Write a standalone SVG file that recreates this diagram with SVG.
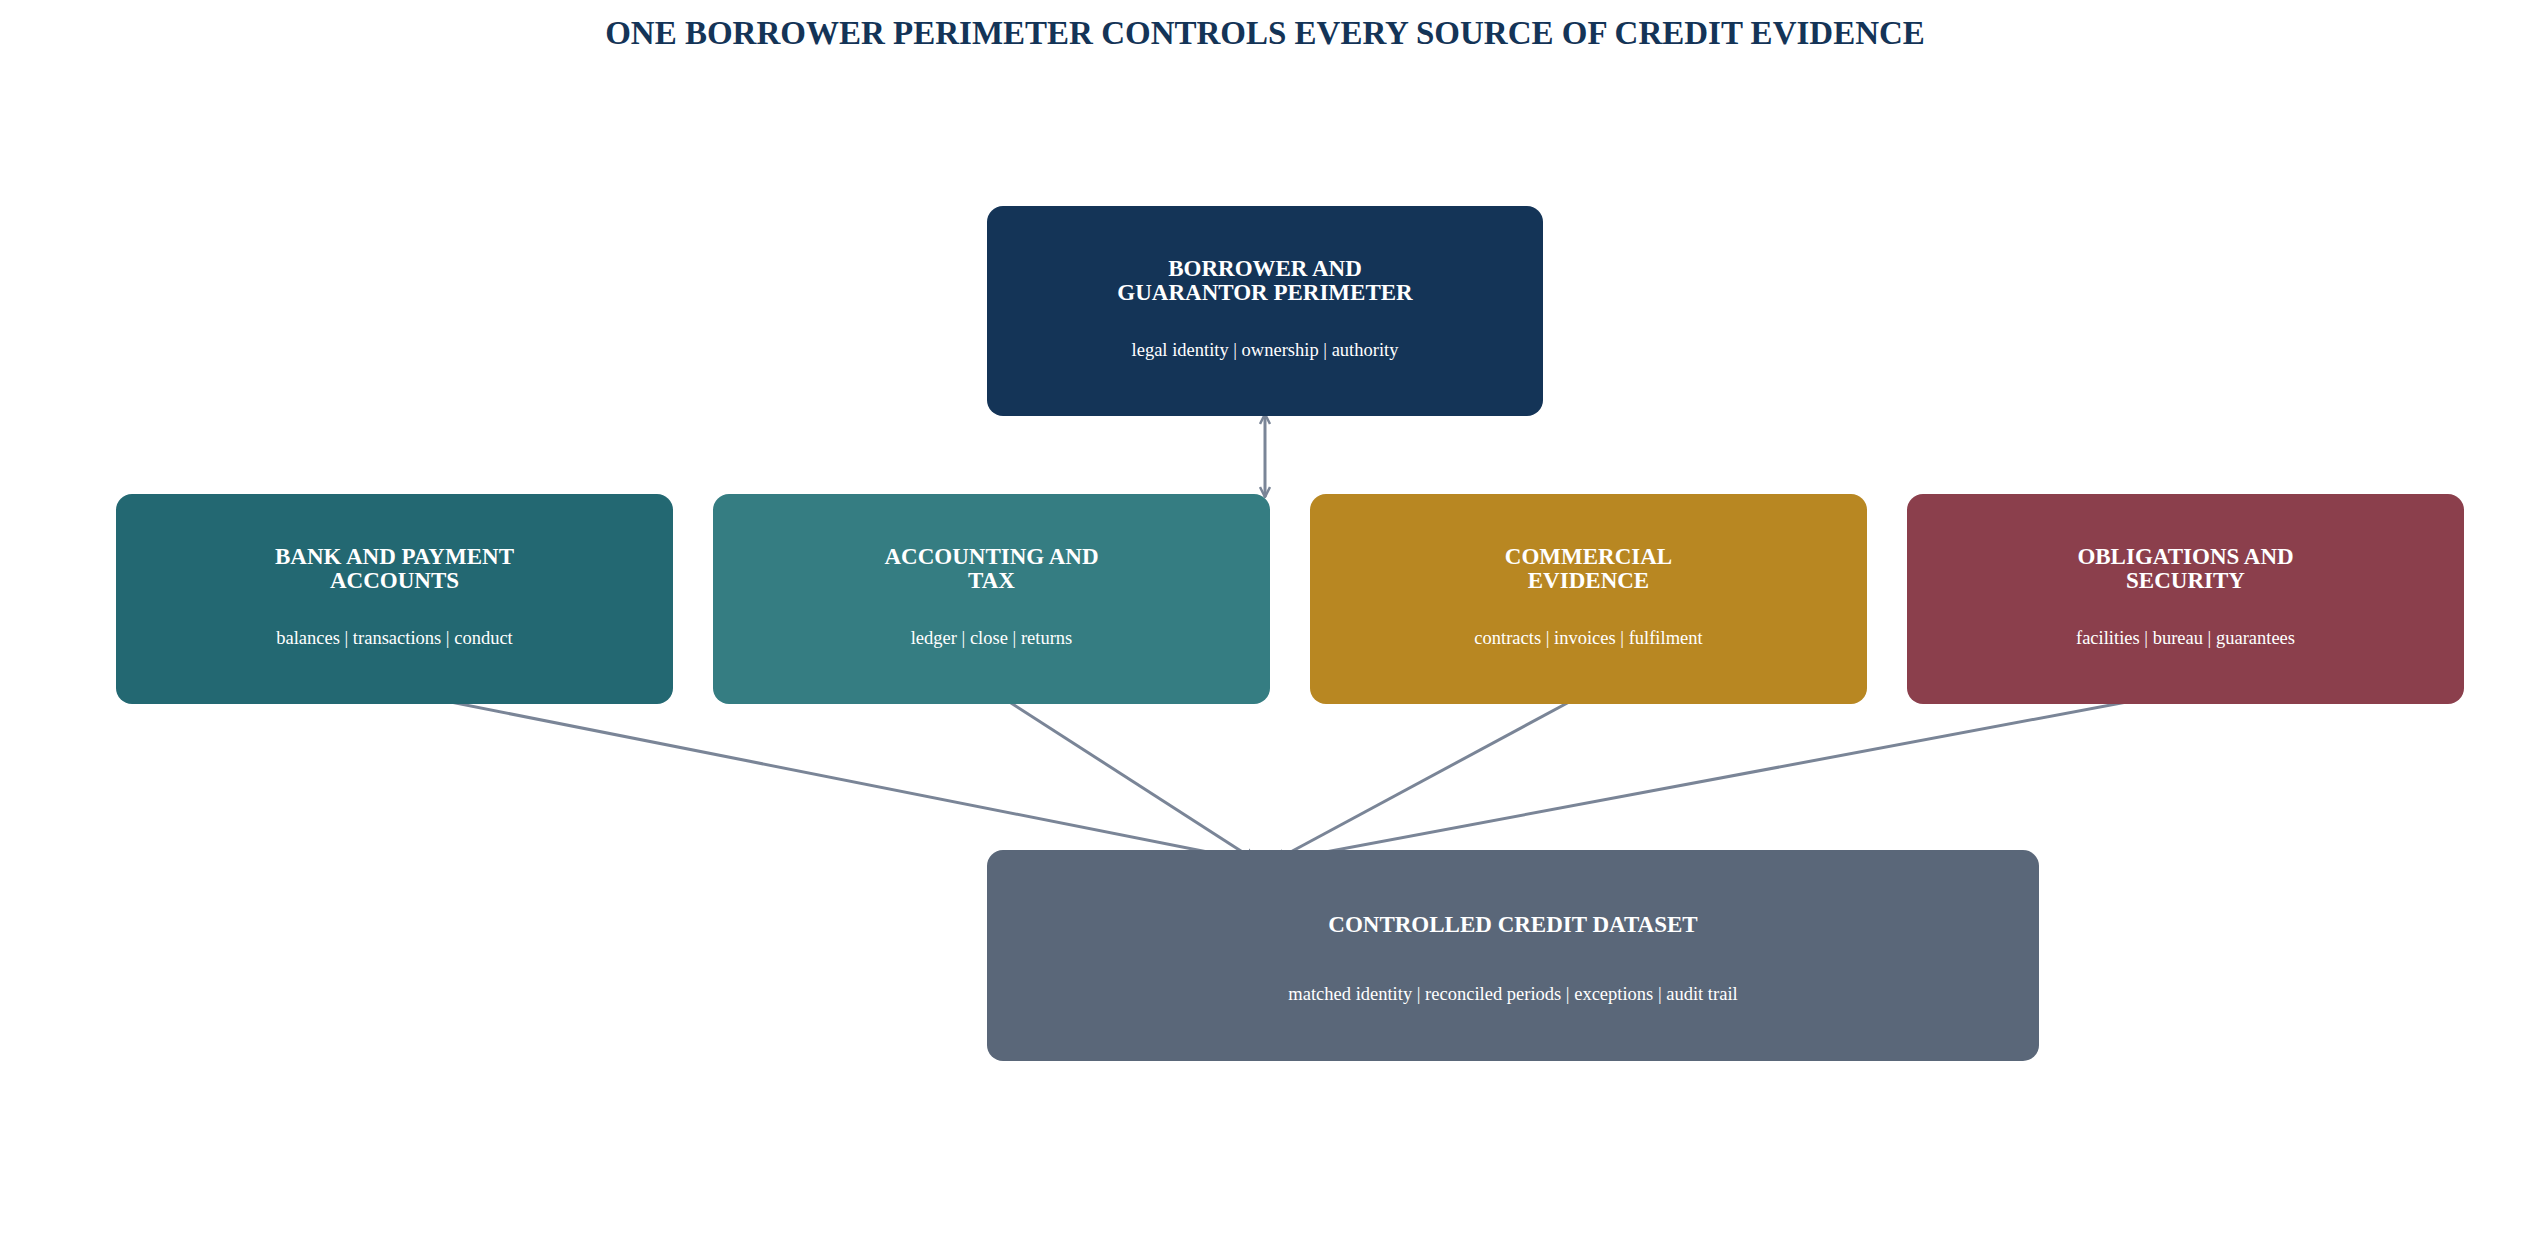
<svg xmlns="http://www.w3.org/2000/svg" width="2530" height="1254" viewBox="0 0 2530 1254">
<style>
.t{font-family:"Liberation Serif","Times New Roman",serif;fill:#fff;text-anchor:middle}
.h{font-weight:bold;font-size:23px}
.s{font-size:18.5px}
.c{stroke:#7a8597;stroke-width:3;fill:none}
</style>
<defs>
<marker id="open" viewBox="0 0 12 12" refX="11" refY="6" markerWidth="12" markerHeight="12" markerUnits="userSpaceOnUse" orient="auto-start-reverse"><path d="M1,1 L11,6 L1,11" fill="none" stroke="#7a8597" stroke-width="2.5"/></marker>
<marker id="tri" viewBox="0 0 12 12" refX="11" refY="6" markerWidth="16" markerHeight="16" markerUnits="userSpaceOnUse" orient="auto"><path d="M0,1 L12,6 L0,11 Z" fill="#7a8597"/></marker>
</defs>
<rect width="2530" height="1254" fill="#fff"/>
<text x="1265" y="44" font-family="Liberation Serif,serif" font-weight="bold" font-size="33" fill="#143457" text-anchor="middle">ONE BORROWER PERIMETER CONTROLS EVERY SOURCE OF CREDIT EVIDENCE</text>
<g id="connectors">
<line class="c" x1="1265" y1="414" x2="1265" y2="497" marker-start="url(#open)" marker-end="url(#open)"/>
<line class="c" x1="400" y1="692" x2="1258" y2="862" marker-end="url(#tri)"/>
<line class="c" x1="997" y1="694" x2="1258" y2="862" marker-end="url(#tri)"/>
<line class="c" x1="1584" y1="694" x2="1272" y2="862" marker-end="url(#tri)"/>
<line class="c" x1="2180" y1="692" x2="1272" y2="862" marker-end="url(#tri)"/>
</g>
<g id="perimeter">
<rect x="987" y="206" width="556" height="210" rx="16" fill="#143457"/>
<text class="t h" x="1265" y="276">BORROWER AND</text>
<text class="t h" x="1265" y="300">GUARANTOR PERIMETER</text>
<text class="t s" x="1265" y="356">legal identity | ownership | authority</text>
</g>
<g id="bank">
<rect x="116" y="494" width="557" height="210" rx="16" fill="#236872"/>
<text class="t h" x="394.5" y="564">BANK AND PAYMENT</text>
<text class="t h" x="394.5" y="588">ACCOUNTS</text>
<text class="t s" x="394.5" y="644">balances | transactions | conduct</text>
</g>
<g id="accounting">
<rect x="713" y="494" width="557" height="210" rx="16" fill="#357d82"/>
<text class="t h" x="991.5" y="564">ACCOUNTING AND</text>
<text class="t h" x="991.5" y="588">TAX</text>
<text class="t s" x="991.5" y="644">ledger | close | returns</text>
</g>
<g id="commercial">
<rect x="1310" y="494" width="557" height="210" rx="16" fill="#b88722"/>
<text class="t h" x="1588.5" y="564">COMMERCIAL</text>
<text class="t h" x="1588.5" y="588">EVIDENCE</text>
<text class="t s" x="1588.5" y="644">contracts | invoices | fulfilment</text>
</g>
<g id="obligations">
<rect x="1907" y="494" width="557" height="210" rx="16" fill="#8b3f4c"/>
<text class="t h" x="2185.5" y="564">OBLIGATIONS AND</text>
<text class="t h" x="2185.5" y="588">SECURITY</text>
<text class="t s" x="2185.5" y="644">facilities | bureau | guarantees</text>
</g>
<g id="dataset">
<rect x="987" y="850" width="1052" height="211" rx="16" fill="#5a6779"/>
<text class="t h" x="1513" y="932">CONTROLLED CREDIT DATASET</text>
<text class="t s" x="1513" y="1000">matched identity | reconciled periods | exceptions | audit trail</text>
</g>
</svg>
